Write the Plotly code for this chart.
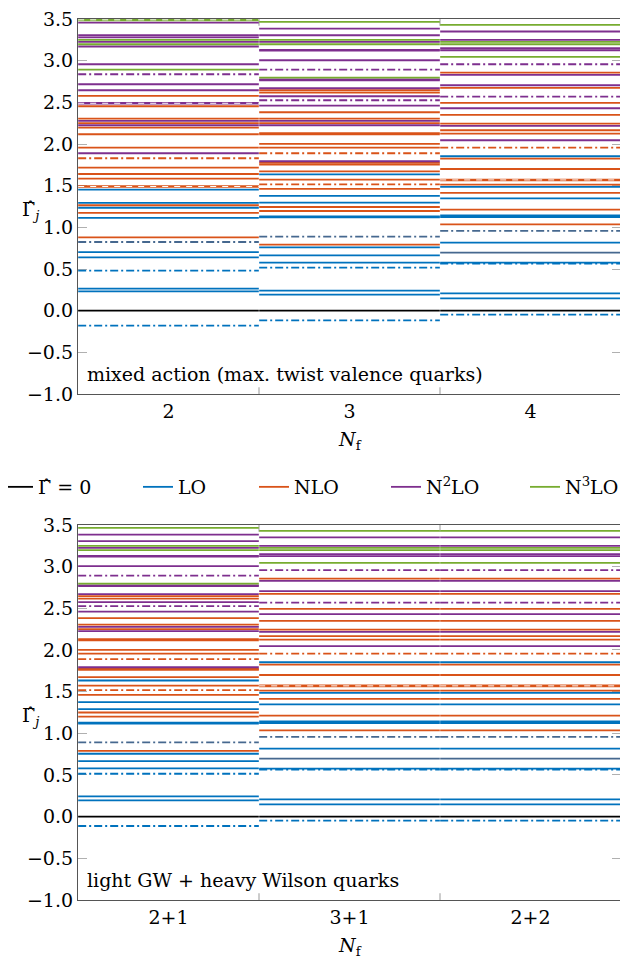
import plotly.graph_objects as go

# ---------------- data ----------------
top_categories = ["2", "3", "4"]
bottom_categories = ["2+1", "3+1", "2+2"]

# N_f = 2 (mixed action)
nf2_LO = [1.453, 1.293, 1.235, 1.113, 0.704, 0.640, 0.264, 0.233]
nf2_NLO = [2.577, 2.453, 2.305, 2.250, 2.197, 2.117, 1.957, 1.717, 1.640, 1.585, 1.265, 1.173, 0.880]
nf2_N2LO = [3.457, 3.305, 3.280, 3.225, 3.170, 2.957, 2.717, 2.645, 2.277, 2.225, 1.889]
nf2_N3LO = [3.250, 3.197, 2.893]
nf2_MIX = []
nf2_dd_vals = [2.837, 1.829, 0.824, 0.480, -0.180]
nf2_dd_order = ["N2LO", "NLO", "mix", "LO", "LO"]
nf2_wd_vals = [3.490, 2.489, 1.490]
nf2_wd_order = ["N3LO", "N2LO", "NLO"]

# N_f = 3 (mixed action)
nf3_LO = [1.636, 1.377, 1.296, 1.130, 1.120, 0.760, 0.664, 0.576, 0.240, 0.192]
nf3_NLO = [2.645, 2.617, 2.381, 2.305, 2.250, 2.130, 2.115, 2.001, 1.957, 1.773, 1.753,
           1.672, 1.572, 1.461, 1.244, 1.196, 0.792]
nf3_N2LO = [3.385, 3.305, 3.225, 3.130, 3.120, 3.005, 2.775, 2.765, 2.669, 2.573, 2.461,
            2.277, 2.225, 1.793]
nf3_N3LO = [3.465, 3.250, 3.197, 2.797]
nf3_MIX = []
nf3_dd_vals = [2.893, 2.525, 1.889, 1.516, 0.888, 0.516, -0.116]
nf3_dd_order = ["N2LO", "N2LO", "NLO", "NLO", "mix", "LO", "LO"]
nf3_wd_vals = []
nf3_wd_order = []

# N_f = 4 (mixed action)
nf4_LO = [1.853, 1.485, 1.348, 1.144, 1.124, 0.816, 0.576, 0.208, 0.148]
nf4_NLO = [2.857, 2.673, 2.493, 2.349, 2.245, 2.165, 2.125, 1.825, 1.700, 1.513, 1.413,
           1.212, 1.036]
nf4_N2LO = [3.350, 3.250, 3.149, 3.125, 2.829, 2.705, 2.429, 2.217, 2.045]
nf4_N3LO = [3.430, 3.225, 3.197, 3.045]
nf4_MIX = [0.696]
nf4_dd_vals = [2.957, 2.569, 1.957, 0.957, 0.564, -0.048]
nf4_dd_order = ["N2LO", "N2LO", "NLO", "mix", "LO", "LO"]
nf4_wd_vals = [1.569]
nf4_wd_order = ["NLO"]

# N_f = 2+1 (light GW + heavy Wilson)
nf21_LO = [1.634, 1.375, 1.290, 1.128, 1.118, 0.755, 0.667, 0.580, 0.243, 0.195]
nf21_NLO = [2.645, 2.617, 2.381, 2.305, 2.250, 2.130, 2.115, 2.001, 1.957, 1.773, 1.763,
            1.675, 1.572, 1.461, 1.250, 1.200, 0.790]
nf21_N2LO = [3.385, 3.305, 3.225, 3.130, 3.120, 3.005, 2.775, 2.765, 2.669, 2.573, 2.461,
             2.277, 2.225, 1.793]
nf21_N3LO = [3.465, 3.250, 3.197, 2.797]
nf21_MIX = []
nf21_dd_vals = [2.893, 2.525, 1.889, 1.519, 0.891, 0.515, -0.112]
nf21_dd_order = ["N2LO", "N2LO", "NLO", "NLO", "mix", "LO", "LO"]
nf21_wd_vals = []
nf21_wd_order = []

# N_f = 3+1
nf31_LO = [1.853, 1.485, 1.348, 1.144, 1.124, 0.816, 0.576, 0.208, 0.148]
nf31_NLO = [2.857, 2.673, 2.493, 2.349, 2.245, 2.165, 2.125, 1.825, 1.700, 1.513, 1.413,
            1.212, 1.036]
nf31_N2LO = [3.350, 3.250, 3.149, 3.125, 2.829, 2.705, 2.429, 2.217, 2.045]
nf31_N3LO = [3.430, 3.225, 3.197, 3.045]
nf31_MIX = [0.696]
nf31_dd_vals = [2.957, 2.569, 1.957, 0.957, 0.564, -0.048]
nf31_dd_order = ["N2LO", "N2LO", "NLO", "mix", "LO", "LO"]
nf31_wd_vals = [1.569]
nf31_wd_order = ["NLO"]

# N_f = 2+2
nf22_LO = [1.853, 1.485, 1.348, 1.144, 1.124, 0.816, 0.576, 0.208, 0.148]
nf22_NLO = [2.857, 2.673, 2.493, 2.349, 2.245, 2.165, 2.125, 1.825, 1.700, 1.513, 1.413,
            1.212, 1.036]
nf22_N2LO = [3.350, 3.250, 3.149, 3.125, 2.829, 2.705, 2.429, 2.217, 2.045]
nf22_N3LO = [3.430, 3.225, 3.197, 3.045]
nf22_MIX = [0.696]
nf22_dd_vals = [2.957, 2.569, 1.957, 0.957, 0.564, -0.048]
nf22_dd_order = ["N2LO", "N2LO", "NLO", "mix", "LO", "LO"]
nf22_wd_vals = [1.569]
nf22_wd_order = ["NLO"]

y_ticks = [-1.0, -0.5, 0.0, 0.5, 1.0, 1.5, 2.0, 2.5, 3.0, 3.5]
top_label = "mixed action (max. twist valence quarks)"
bottom_label = "light GW + heavy Wilson quarks"
legend_names = ["Γ̂ = 0", "LO", "NLO", "N<sup>2</sup>LO", "N<sup>3</sup>LO"]

# ---------------- styling ----------------
COLORS = {"LO": "#0072BD", "NLO": "#D95319", "N2LO": "#7E2F8E",
          "N3LO": "#77AC30", "mix": "#46688F"}
ORDERS = ["LO", "NLO", "N2LO", "N3LO"]
FONT = "DejaVu Serif"
FS = 19
HALF = 0.499
DASHDOT = "8px,3px,2px,3px"
LW = 1.8

# page body has an 8px margin: size the figure so the plot lands where the reference has it
W, H = 620, 955
ML, MR, MT, MB = 70, 7, 11, 63
PW = W - ML - MR
PH = H - MT - MB
legend_x_page = [8, 148, 264, 396, 535]
legend_y_page = 487


def column(LO, NLO, N2LO, N3LO, MIX, dd_vals, dd_order, wd_vals, wd_order):
    return {"solid": {"LO": LO, "NLO": NLO, "N2LO": N2LO, "N3LO": N3LO, "mix": MIX},
            "dd": list(zip(dd_vals, dd_order)),
            "wd": list(zip(wd_vals, wd_order))}


panels = [
    [column(nf2_LO, nf2_NLO, nf2_N2LO, nf2_N3LO, nf2_MIX, nf2_dd_vals, nf2_dd_order, nf2_wd_vals, nf2_wd_order),
     column(nf3_LO, nf3_NLO, nf3_N2LO, nf3_N3LO, nf3_MIX, nf3_dd_vals, nf3_dd_order, nf3_wd_vals, nf3_wd_order),
     column(nf4_LO, nf4_NLO, nf4_N2LO, nf4_N3LO, nf4_MIX, nf4_dd_vals, nf4_dd_order, nf4_wd_vals, nf4_wd_order)],
    [column(nf21_LO, nf21_NLO, nf21_N2LO, nf21_N3LO, nf21_MIX, nf21_dd_vals, nf21_dd_order, nf21_wd_vals, nf21_wd_order),
     column(nf31_LO, nf31_NLO, nf31_N2LO, nf31_N3LO, nf31_MIX, nf31_dd_vals, nf31_dd_order, nf31_wd_vals, nf31_wd_order),
     column(nf22_LO, nf22_NLO, nf22_N2LO, nf22_N3LO, nf22_MIX, nf22_dd_vals, nf22_dd_order, nf22_wd_vals, nf22_wd_order)],
]
panel_categories = [top_categories, bottom_categories]


def segments(vals, idx):
    xs, ys = [], []
    for v in vals:
        xs += [idx - HALF, idx + HALF, None]
        ys += [v, v, None]
    return xs, ys


def legend_ref(i):
    return "legend" if i == 0 else "legend%d" % (i + 1)


fig = go.Figure()
legend_done = set()

for p, cols in enumerate(panels):
    xa = "x" if p == 0 else "x2"
    ya = "y" if p == 0 else "y2"
    for key in ORDERS + ["mix"]:
        xs, ys = [], []
        for ci, col in enumerate(cols):
            sx, sy = segments(col["solid"][key], ci + 1)
            xs += sx
            ys += sy
        if key == "mix" and not xs:
            continue
        show = key in ORDERS and key not in legend_done
        if show:
            legend_done.add(key)
        li = ORDERS.index(key) + 1 if key in ORDERS else 1
        fig.add_trace(go.Scatter(
            x=xs, y=ys, mode="lines", xaxis=xa, yaxis=ya,
            line=dict(color=COLORS[key], width=LW),
            name=legend_names[li] if key in ORDERS else key,
            legend=legend_ref(li), showlegend=show, hoverinfo="skip"))
    for key in ORDERS:
        xs, ys = [], []
        for ci, col in enumerate(cols):
            vals = [v for v, o in col["wd"] if o == key]
            sx, sy = segments(vals, ci + 1)
            xs += sx
            ys += sy
        if not xs:
            continue
        fig.add_trace(go.Scatter(x=xs, y=ys, mode="lines", xaxis=xa, yaxis=ya,
                                 line=dict(color=COLORS[key], width=2.6),
                                 showlegend=False, hoverinfo="skip"))
        fig.add_trace(go.Scatter(x=xs, y=ys, mode="lines", xaxis=xa, yaxis=ya,
                                 line=dict(color="white", width=1.0, dash="6px,6px"),
                                 showlegend=False, hoverinfo="skip"))
    for key in ORDERS + ["mix"]:
        xs, ys = [], []
        for ci, col in enumerate(cols):
            vals = [v for v, o in col["dd"] if o == key]
            sx, sy = segments(vals, ci + 1)
            xs += sx
            ys += sy
        if not xs:
            continue
        fig.add_trace(go.Scatter(x=xs, y=ys, mode="lines", xaxis=xa, yaxis=ya,
                                 line=dict(color=COLORS[key], width=LW, dash=DASHDOT),
                                 showlegend=False, hoverinfo="skip"))
    zx, zy = [], []
    for ci in range(len(cols)):
        sx, sy = segments([0.0], ci + 1)
        zx += sx
        zy += sy
    fig.add_trace(go.Scatter(x=zx, y=zy, mode="lines", xaxis=xa, yaxis=ya,
                             line=dict(color="black", width=LW),
                             name=legend_names[0], legend="legend", showlegend=(p == 0),
                             hoverinfo="skip"))

axis_common = dict(showline=True, linecolor="#555555", linewidth=1.2, mirror="ticks",
                   showgrid=False, zeroline=False, layer="below traces", automargin=False,
                   ticklabeloverflow="allow",
                   tickfont=dict(family=FONT, size=FS, color="black"))

shapes = []
for p, cats in enumerate(panel_categories):
    sfx = "" if p == 0 else "2"
    dom = [0.5743, 1.0] if p == 0 else [0.0, 0.4257]
    fig.update_layout(**{
        "xaxis" + sfx: dict(axis_common, range=[0.5, len(cats) + 0.5],
                            anchor="y" + sfx, domain=[0, 1],
                            tickmode="array", tickvals=list(range(1, len(cats) + 1)),
                            ticktext=cats, ticks=""),
        "yaxis" + sfx: dict(axis_common, range=[-1.0, 3.5], anchor="x" + sfx, domain=dom,
                            tickmode="array", tickvals=y_ticks, tickformat=".1f",
                            ticks="inside", ticklen=9, tickcolor="#b0b0b0", tickwidth=1),
    })
    for b in range(1, len(cats)):
        for y0, y1 in [(0.0, 0.018), (0.982, 1.0)]:
            shapes.append(dict(type="line", xref="x" + sfx, yref="y" + sfx + " domain",
                               x0=b + 0.5, x1=b + 0.5, y0=y0, y1=y1, layer="below",
                               line=dict(color="#999999", width=1)))

annotations = []
for p, lab in enumerate([top_label, bottom_label]):
    sfx = "" if p == 0 else "2"
    annotations.append(dict(text=lab, xref="x" + sfx + " domain", yref="y" + sfx + " domain",
                            x=0.012, y=0.018, xanchor="left", yanchor="bottom", showarrow=False,
                            font=dict(family=FONT, size=FS, color="black")))
    annotations.append(dict(text="Γ̂<sub><i>j</i></sub>", xref="x" + sfx + " domain",
                            yref="y" + sfx + " domain", x=-0.088, y=0.49,
                            xanchor="center", yanchor="middle", showarrow=False,
                            font=dict(family=FONT, size=FS, color="black")))
    annotations.append(dict(text="<i>N</i><sub>f</sub>", xref="x" + sfx + " domain",
                            yref="y" + sfx + " domain", x=0.5, y=-0.125,
                            xanchor="center", yanchor="middle", showarrow=False,
                            font=dict(family=FONT, size=FS, color="black")))

legends = {}
for i in range(len(legend_names)):
    fx = legend_x_page[i] - 8 - 10
    fy = legend_y_page - 8
    legends[legend_ref(i)] = dict(
        orientation="h", x=(fx - ML) / PW, y=(H - MB - fy) / PH,
        xanchor="left", yanchor="middle",
        font=dict(family=FONT, size=FS, color="black"),
        bgcolor="rgba(0,0,0,0)", itemwidth=30)

fig.update_layout(
    width=W, height=H,
    margin=dict(l=ML, r=MR, t=MT, b=MB, autoexpand=False),
    paper_bgcolor="white", plot_bgcolor="white",
    font=dict(family=FONT, size=FS, color="black"),
    annotations=annotations,
    shapes=shapes,
    showlegend=True,
    **legends,
)

fig.write_html("out.html")
